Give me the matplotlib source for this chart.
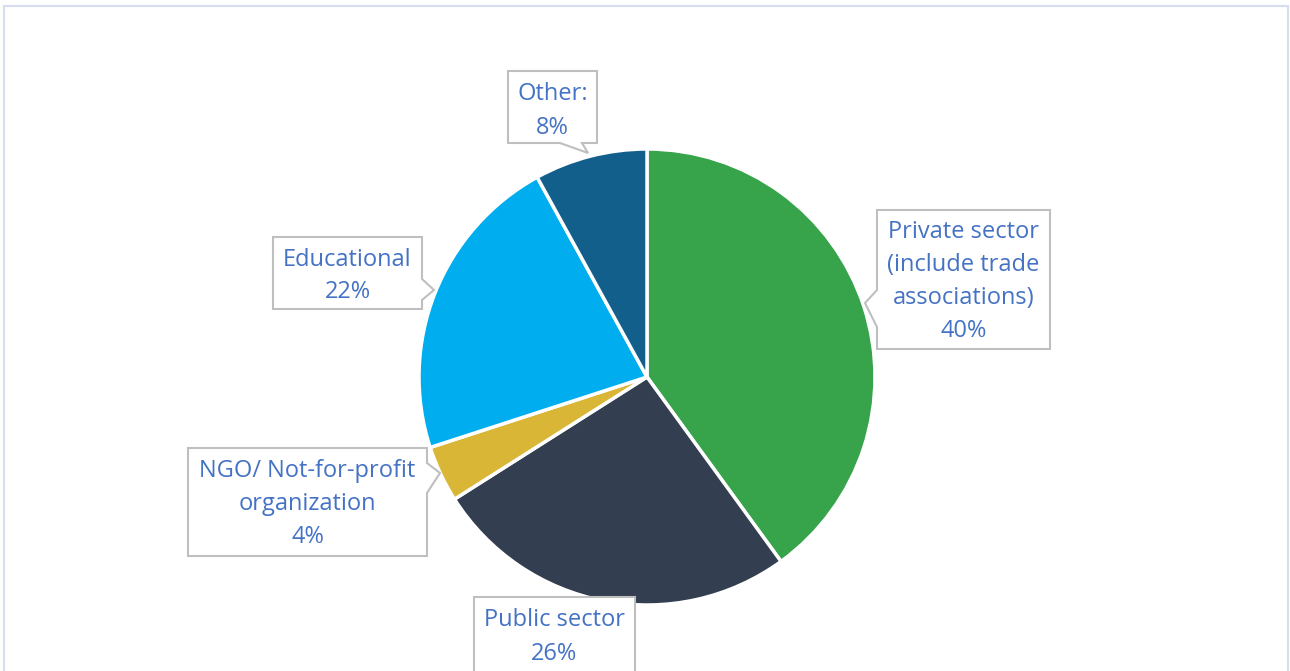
import matplotlib
matplotlib.use("Agg")
import matplotlib.pyplot as plt
from matplotlib.patches import Polygon, Rectangle

# ---- data ----
categories = ["Private sector\n(include trade\nassociations)", "Public sector",
              "NGO/ Not-for-profit\norganization", "Educational", "Other:"]
values = [40, 26, 4, 22, 8]
colors = ["#37A34A", "#333F50", "#DAB636", "#00AEEF", "#125F8C"]

W, H = 1290, 671
fig = plt.figure(figsize=(W / 100, H / 100), dpi=100)
fig.patch.set_facecolor("white")

def fx(x):
    return x / W

def fy(y):
    return 1 - y / H

# outer chart border
fig.patches.append(Rectangle((fx(4), fy(675)), fx(1284), (675 - 6) / H,
                             transform=fig.transFigure, fill=False,
                             edgecolor="#D5DEF0", linewidth=1.5))

# pie axes: centre (647, 377) px, radius 228 px
cx, cy, r = 647, 377, 228
ax = fig.add_axes([fx(cx - r), fy(cy + r), 2 * r / W, 2 * r / H])
ax.pie(values, colors=colors, startangle=90, counterclock=False, radius=1,
       wedgeprops=dict(edgecolor="white", linewidth=2.5))
ax.set_xlim(-1, 1)
ax.set_ylim(-1, 1)
ax.set_aspect("auto")
ax.axis("off")

# callout boxes: (left, top, right, bottom), pointer (side, p1, tip, p2), text centre y
boxes = [
    dict(box=(877, 210, 1050, 349), ptr=("left", 290, (865, 303), 327), ty=282),
    dict(box=(474, 597, 635, 690), ptr=None, ty=637),
    dict(box=(188, 448, 427, 556), ptr=("right", 463, (440, 473), 493), ty=504),
    dict(box=(273, 237, 422, 309), ptr=("right", 279, (434, 290), 300), ty=276),
    dict(box=(508, 71, 597, 143), ptr=("bottom", 560, (588, 153), 582), ty=111),
]

for lab, val, b in zip(categories, values, boxes):
    l, t, rr, bt = b["box"]
    pts = [(l, t), (rr, t)]
    ptr = b["ptr"]
    if ptr and ptr[0] == "right":
        pts += [(rr, ptr[1]), ptr[2], (rr, ptr[3])]
    pts += [(rr, bt)]
    if ptr and ptr[0] == "bottom":
        pts += [(ptr[3], bt), ptr[2], (ptr[1], bt)]
    pts += [(l, bt)]
    if ptr and ptr[0] == "left":
        pts += [(l, ptr[3]), ptr[2], (l, ptr[1])]
    poly = Polygon([(fx(x), fy(y)) for x, y in pts], closed=True,
                   transform=fig.transFigure, facecolor="white",
                   edgecolor="#BFBFBF", linewidth=1.5, zorder=5)
    fig.patches.append(poly)
    fig.text(fx((l + rr) / 2), fy(b["ty"]),
             f"{lab}\n{val}%", ha="center", va="center",
             family=["Open Sans", "DejaVu Sans"], fontsize=17,
             color="#4472C4", linespacing=1.5, zorder=6)

fig.savefig("out.png", dpi=100)
